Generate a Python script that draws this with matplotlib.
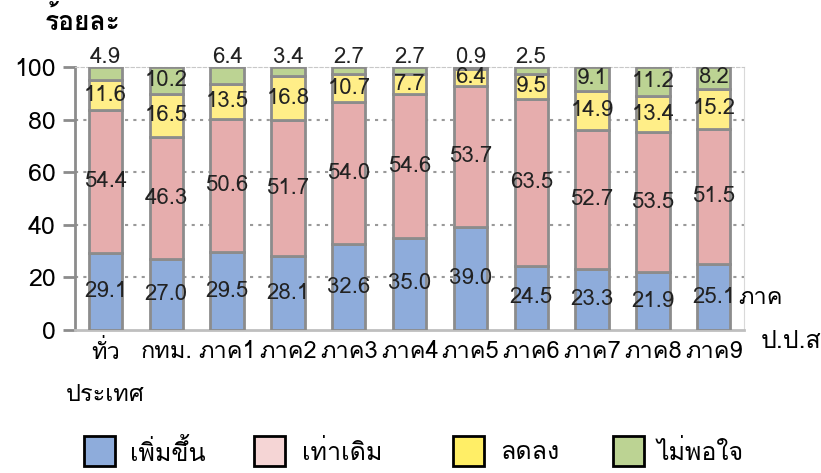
import numpy as np
import matplotlib
matplotlib.use("Agg")
import matplotlib.pyplot as plt
from matplotlib import font_manager
from matplotlib.ft2font import FT2Font
from matplotlib.patches import Rectangle

# pick a font that has Thai glyphs
thai_font = None
for fe in font_manager.fontManager.ttflist:
    try:
        if ord("ก") in FT2Font(fe.fname).get_charmap():
            thai_font = fe.name
            break
    except Exception:
        pass
fams = ([thai_font] if thai_font else []) + ["DejaVu Sans"]
plt.rcParams["font.family"] = fams

categories = ["ทั่ว\nประเทศ", "กทม.", "ภาค1", "ภาค2", "ภาค3", "ภาค4",
              "ภาค5", "ภาค6", "ภาค7", "ภาค8", "ภาค9"]
increase = [29.1, 27.0, 29.5, 28.1, 32.6, 35.0, 39.0, 24.5, 23.3, 21.9, 25.1]
same = [54.4, 46.3, 50.6, 51.7, 54.0, 54.6, 53.7, 63.5, 52.7, 53.5, 51.5]
decrease = [11.6, 16.5, 13.5, 16.8, 10.7, 7.7, 6.4, 9.5, 14.9, 13.4, 15.2]
unsatisfied = [4.9, 10.2, 6.4, 3.4, 2.7, 2.7, 0.9, 2.5, 9.1, 11.2, 8.2]
series_names = ["เพิ่มขึ้น", "เท่าเดิม", "ลดลง", "ไม่พอใจ"]

bar_colors = ["#8EACDB", "#E6ADAD", "#FFEE88", "#BCD393"]
legend_colors = ["#8EACDB", "#F5D5D5", "#FFEE66", "#BCD393"]

W, H = 821, 473
fig = plt.figure(figsize=(W / 100, H / 100), dpi=100)
ax = fig.add_axes([0.0914, 0.3023, 0.815, 0.556])

x = np.arange(len(categories))
bottom = np.zeros(len(categories))
for vals, col in zip([increase, same, decrease, unsatisfied], bar_colors):
    vals = np.array(vals)
    ax.bar(x, vals, 0.55, bottom=bottom, color=col, edgecolor="#8C8C8C",
           linewidth=2, zorder=3)
    for xi, b, v in zip(x, bottom, vals):
        if v < 8 and b + v > 99.5:
            ax.text(xi, 99.6, f"{v:.1f}", ha="center", va="bottom",
                    fontsize=16, color="#222222", zorder=4)
        else:
            ax.text(xi, b + v / 2, f"{v:.1f}", ha="center", va="center",
                    fontsize=16, color="#222222", zorder=4)
    bottom = bottom + vals

ax.set_xlim(-0.5, len(categories) - 0.5)
ax.set_ylim(0, 100)
ax.set_yticks([0, 20, 40, 60, 80, 100])
ax.set_xticks(x)
ax.set_xticklabels(categories, fontsize=17, linespacing=2.05)
ax.tick_params(axis="x", length=0, pad=7)
ax.tick_params(axis="y", labelsize=18, length=9, width=2, color="#8C8C8C",
               direction="out", pad=5)
for y in [20, 40, 60, 80]:
    ax.axhline(y, color="#999999", linestyle=(0, (1.5, 2.5)), linewidth=1.5,
               zorder=1)

ax.spines["left"].set_color("#8C8C8C")
ax.spines["left"].set_linewidth(2)
ax.spines["bottom"].set_color("#BFBFBF")
ax.spines["bottom"].set_linewidth(2)
ax.spines["right"].set_color("#D9D9D9")
ax.spines["top"].set_color("#C8C8C8")
ax.spines["top"].set_linestyle((0, (3, 2)))

fig.text(45 / W, 1 - 21 / H, "ร้อยละ", fontsize=19, fontweight="bold",
         ha="left", va="center")
fig.text(760 / W, 1 - 297 / H, "ภาค", fontsize=17, ha="center", va="center")
fig.text(791 / W, 1 - 341 / H, "ป.ป.ส", fontsize=18, ha="center", va="center")

# legend drawn by hand to match spacing
box_x = [84, 254, 453, 613]
text_x = [130, 302, 500, 657]
for bx, tx, col, name in zip(box_x, text_x, legend_colors, series_names):
    fig.patches.append(Rectangle((bx / W, 1 - 466 / H), 31 / W, 30 / H,
                                 facecolor=col, edgecolor="black",
                                 linewidth=2, transform=fig.transFigure))
    fig.text(tx / W, 1 - 452 / H, name, fontsize=18, ha="left", va="center")

fig.savefig("out.png", dpi=100)
